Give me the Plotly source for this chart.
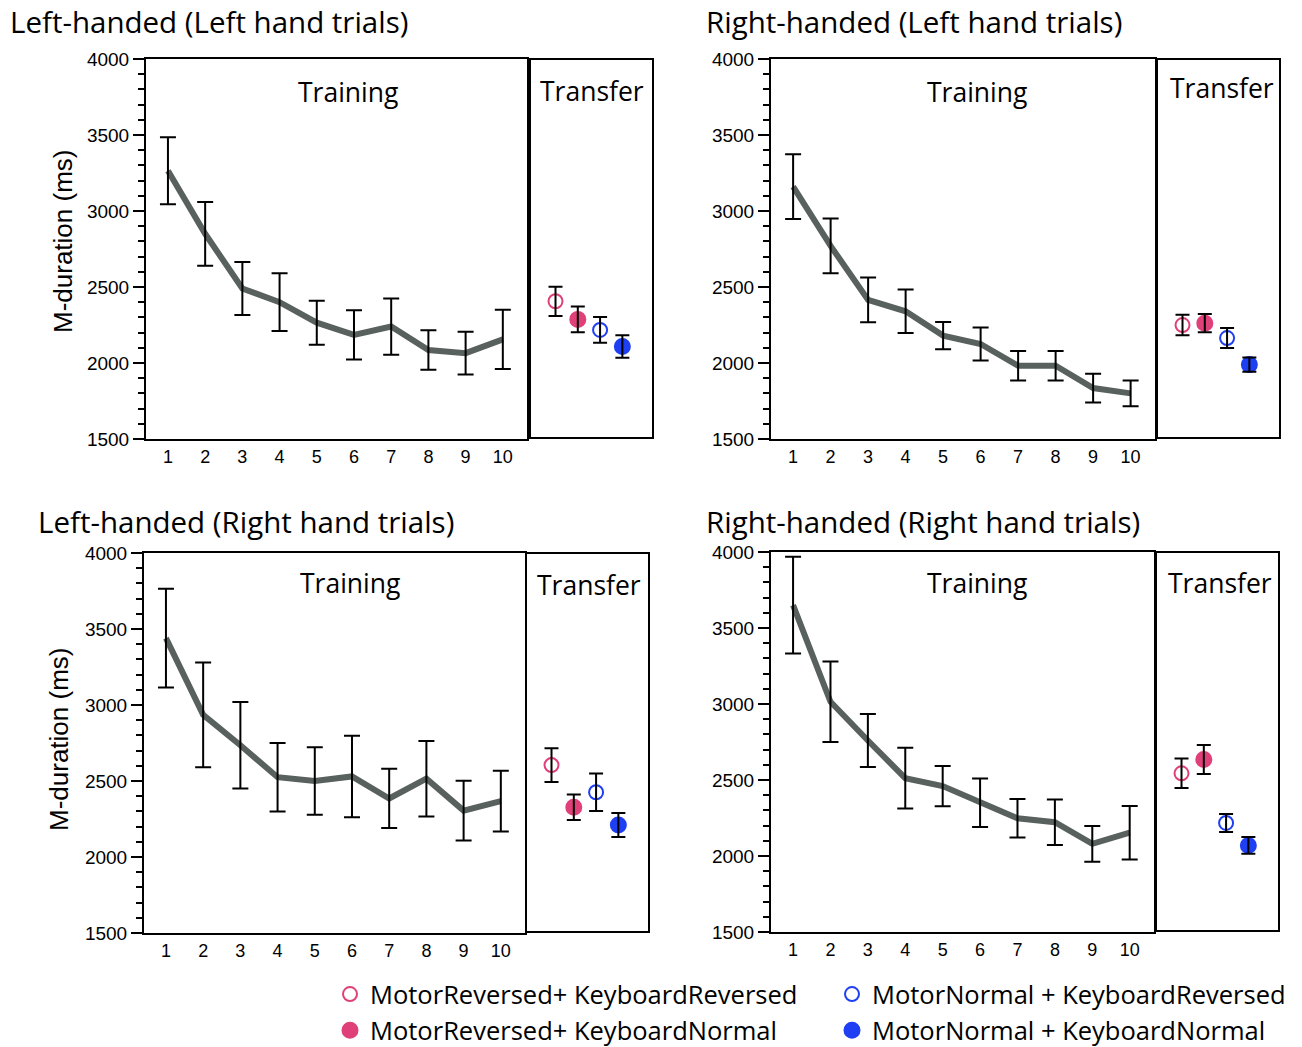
import plotly.graph_objects as go

W, H = 1302, 1047

# ---- data ----
sessions = [1, 2, 3, 4, 5, 6, 7, 8, 9, 10]
conditions = ["MotorReversed+ KeyboardReversed", "MotorReversed+ KeyboardNormal",
              "MotorNormal + KeyboardReversed", "MotorNormal + KeyboardNormal"]
cond_x = [1, 2, 3, 4]

lh_lh_mean = [3265, 2850, 2490, 2400, 2265, 2185, 2240, 2085, 2065, 2155]
lh_lh_err = [220, 210, 175, 190, 145, 162, 185, 130, 140, 195]
lh_lh_tr_mean = [2400, 2280, 2210, 2100]
lh_lh_tr_err = [97, 85, 85, 75]

rh_lh_mean = [3160, 2770, 2415, 2340, 2180, 2125, 1982, 1982, 1835, 1800]
rh_lh_err = [213, 180, 147, 143, 90, 108, 97, 97, 95, 85]
rh_lh_tr_mean = [2242, 2255, 2156, 1980]
rh_lh_tr_err = [68, 60, 66, 48]

lh_rh_mean = [3440, 2935, 2735, 2525, 2500, 2530, 2385, 2515, 2305, 2368]
lh_rh_err = [325, 345, 285, 225, 222, 268, 195, 248, 197, 200]
lh_rh_tr_mean = [2600, 2321, 2420, 2203]
lh_rh_tr_err = [112, 85, 125, 80]

rh_rh_mean = [3650, 3015, 2760, 2512, 2460, 2350, 2248, 2222, 2080, 2153]
rh_rh_err = [318, 265, 175, 200, 132, 160, 127, 150, 118, 176]
rh_rh_tr_mean = [2539, 2631, 2210, 2061]
rh_rh_tr_err = [98, 96, 60, 55]

# ---- styling ----
PINK = "#e0407a"
BLUE = "#1f3ff2"
LINE_GRAY = "#59615f"
cond_colors = [PINK, PINK, BLUE, BLUE]
cond_symbols = ["circle-open", "circle", "circle-open", "circle"]
cond_sizes = [14, 15, 14, 15]
legend_rank = [1, 3, 2, 4]
TXT_FONT = "Open Sans"
NUM_FONT = "Liberation Sans"

# pixel boxes of each panel (training box, transfer box, label spots)
panels = [
    dict(title="Left-handed (Left hand trials)", mean=lh_lh_mean, err=lh_lh_err,
         tr_mean=lh_lh_tr_mean, tr_err=lh_lh_tr_err,
         train=(146, 527), trans=(531, 652), top=59, bottom=439,
         title_xy=(8, 22), train_lbl=(348, 92), trans_lbl=(592, 91), ylab=(63, 242)),
    dict(title="Right-handed (Left hand trials)", mean=rh_lh_mean, err=rh_lh_err,
         tr_mean=rh_lh_tr_mean, tr_err=rh_lh_tr_err,
         train=(771, 1155), trans=(1158, 1279), top=59, bottom=439,
         title_xy=(704, 22), train_lbl=(977, 92), trans_lbl=(1222, 88), ylab=None),
    dict(title="Left-handed (Right hand trials)", mean=lh_rh_mean, err=lh_rh_err,
         tr_mean=lh_rh_tr_mean, tr_err=lh_rh_tr_err,
         train=(144, 525), trans=(527, 648), top=553, bottom=933,
         title_xy=(36, 521), train_lbl=(350, 583), trans_lbl=(589, 585), ylab=(59, 740)),
    dict(title="Right-handed (Right hand trials)", mean=rh_rh_mean, err=rh_rh_err,
         tr_mean=rh_rh_tr_mean, tr_err=rh_rh_tr_err,
         train=(771, 1154), trans=(1157, 1278), top=552, bottom=932,
         title_xy=(704, 521), train_lbl=(977, 583), trans_lbl=(1220, 583), ylab=None),
]


def xdom(a, b):
    return [a / W, b / W]


def ydom(top, bottom):
    return [1 - bottom / H, 1 - top / H]


fig = go.Figure()
layout = {}
annotations = []


def ann(text, xy, size, family=TXT_FONT, anchor="center", angle=0):
    annotations.append(dict(text=text, x=xy[0] / W, y=1 - xy[1] / H,
                            xref="paper", yref="paper", showarrow=False,
                            xanchor=anchor, yanchor="middle", textangle=angle,
                            font=dict(family=family, size=size, color="black")))


for i, p in enumerate(panels):
    n1, n2 = 2 * i + 1, 2 * i + 2
    xa1 = "x" if n1 == 1 else "x%d" % n1
    ya1 = "y" if n1 == 1 else "y%d" % n1
    xa2, ya2 = "x%d" % n2, "y%d" % n2

    # training curve, error bars drawn on top of the line
    fig.add_trace(go.Scatter(x=sessions, y=p["mean"], mode="lines",
                             line=dict(color=LINE_GRAY, width=6),
                             xaxis=xa1, yaxis=ya1, showlegend=False, hoverinfo="skip"))
    fig.add_trace(go.Scatter(x=sessions, y=p["mean"], mode="markers",
                             marker=dict(size=1, color="rgba(0,0,0,0)"),
                             error_y=dict(type="data", array=p["err"], color="black",
                                          thickness=2, width=8),
                             xaxis=xa1, yaxis=ya1, showlegend=False))

    # transfer points
    for k in range(4):
        fig.add_trace(go.Scatter(
            x=[cond_x[k]], y=[p["tr_mean"][k]], mode="markers", name=conditions[k],
            marker=dict(symbol=cond_symbols[k], size=cond_sizes[k],
                        color=cond_colors[k], line=dict(width=2, color=cond_colors[k])),
            xaxis=xa2, yaxis=ya2, showlegend=(i == 0), legendrank=legend_rank[k]))
    fig.add_trace(go.Scatter(x=cond_x, y=p["tr_mean"], mode="markers",
                             marker=dict(size=1, color="rgba(0,0,0,0)"),
                             error_y=dict(type="data", array=p["tr_err"], color="black",
                                          thickness=2, width=7),
                             xaxis=xa2, yaxis=ya2, showlegend=False))

    box = dict(showline=True, mirror=True, linecolor="black", linewidth=2,
               showgrid=False, zeroline=False)
    layout["xaxis" if n1 == 1 else "xaxis%d" % n1] = dict(
        box, domain=xdom(*p["train"]), range=[0.41, 10.65], anchor=ya1,
        tickvals=sessions, ticks="outside", ticklen=0, tickcolor="rgba(0,0,0,0)",
        tickfont=dict(family=NUM_FONT, size=18, color="black"))
    layout["yaxis" if n1 == 1 else "yaxis%d" % n1] = dict(
        box, domain=ydom(p["top"], p["bottom"]), range=[1500, 4000], anchor=xa1,
        tickvals=[1500, 2000, 2500, 3000, 3500, 4000], ticks="outside", ticklen=11,
        tickwidth=2, tickcolor="black",
        minor=dict(dtick=100, ticks="outside", ticklen=6, tickwidth=1.5,
                   tickcolor="black", showgrid=False),
        tickfont=dict(family=NUM_FONT, size=19, color="black"))
    layout["xaxis%d" % n2] = dict(box, domain=xdom(*p["trans"]), range=[-0.1, 5.33],
                                  anchor=ya2, showticklabels=False, ticks="")
    layout["yaxis%d" % n2] = dict(box, domain=ydom(p["top"] + 1, p["bottom"] - 2),
                                  range=[1500, 4000], anchor=xa2,
                                  showticklabels=False, ticks="")

    ann(p["title"], p["title_xy"], 29.5, anchor="left")
    ann("Training", p["train_lbl"], 26.5)
    ann("Transfer", p["trans_lbl"], 26.5)
    if p["ylab"]:
        ann("M-duration (ms)", p["ylab"], 26, family=NUM_FONT, angle=-90)

fig.update_layout(
    width=W, height=H, margin=dict(l=0, r=0, t=0, b=0, autoexpand=False),
    paper_bgcolor="white", plot_bgcolor="white",
    annotations=annotations,
    legend=dict(orientation="h", x=330 / W, y=1 - 971 / H,
                xanchor="left", yanchor="top", entrywidth=457,
                font=dict(family=TXT_FONT, size=25.5, color="black"),
                bgcolor="rgba(0,0,0,0)", tracegroupgap=0),
    **layout,
)

# drop the default page margin so the figure sits at the window's top-left corner
fig.write_html("out.html", config={"displayModeBar": False},
               post_script="document.body.style.margin='0';")
